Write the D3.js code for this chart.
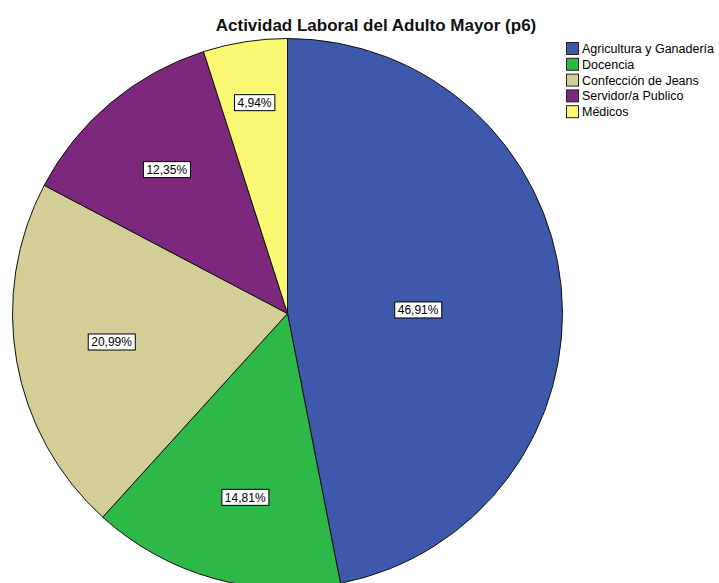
<!DOCTYPE html>
<html><head><meta charset="utf-8">
<script src="https://cdn.jsdelivr.net/npm/d3@7"></script>
<style>body{margin:0;background:#fff;} svg{display:block;font-family:"Liberation Sans",Arial,sans-serif;}</style>
</head><body>
<svg id="c" width="719" height="583"></svg>
<script>
const categories = ["Agricultura y Ganadería","Docencia","Confección de Jeans","Servidor/a Publico","Médicos"];
const counts = [38, 12, 17, 10, 4];
const pctLabels = ["46,91%","14,81%","20,99%","12,35%","4,94%"];
const colors = ["#3E58AC","#2EB848","#D3CE97","#7C287D","#FBF873"];
const labelRadiusFrac = [0.475, 0.686, 0.648, 0.683, 0.776];
const labelAngleShiftDeg = [4, -2.6, 0.8, 0, 0];

const svg = d3.select("#c");
const cx = 287.5, cy = 313.5, R = 275;

svg.append("text").attr("x", 376).attr("y", 31).attr("text-anchor","middle")
  .attr("font-size", 17).attr("font-weight","bold").attr("fill","#111")
  .text("Actividad Laboral del Adulto Mayor (p6)");

const pie = d3.pie().sort(null).value(d => d)(counts);
const arc = d3.arc().innerRadius(0).outerRadius(R);
const g = svg.append("g").attr("transform", `translate(${cx},${cy})`);
g.selectAll("path").data(pie).join("path")
  .attr("d", arc).attr("fill", (d,i) => colors[i])
  .attr("stroke", "#111").attr("stroke-width", 1);

pie.forEach((d,i) => {
  const a = (d.startAngle + d.endAngle)/2 + labelAngleShiftDeg[i]*Math.PI/180;
  const r = R * labelRadiusFrac[i];
  const x = r*Math.sin(a), y = -r*Math.cos(a);
  const lg = g.append("g").attr("transform", `translate(${x},${y})`);
  const t = lg.append("text").attr("text-anchor","middle").attr("dy","0.35em")
    .attr("font-size", 12).attr("fill","#000").text(pctLabels[i]);
  const bb = t.node().getBBox();
  lg.insert("rect","text").attr("x", bb.x-3).attr("y", -8).attr("width", bb.width+6).attr("height", 16)
    .attr("fill","#fff").attr("stroke","#000").attr("stroke-width",1);
});

const leg = svg.append("g").attr("transform","translate(566,42)");
categories.forEach((c,i) => {
  const row = leg.append("g").attr("transform", `translate(0,${i*15.8})`);
  row.append("rect").attr("x",0.5).attr("y",0.5).attr("width",12).attr("height",12)
    .attr("fill", colors[i]).attr("stroke","#222").attr("stroke-width",1);
  row.append("text").attr("x",16).attr("y",11).attr("font-size",12.5).attr("fill","#000").text(c);
});
</script>
</body></html>
